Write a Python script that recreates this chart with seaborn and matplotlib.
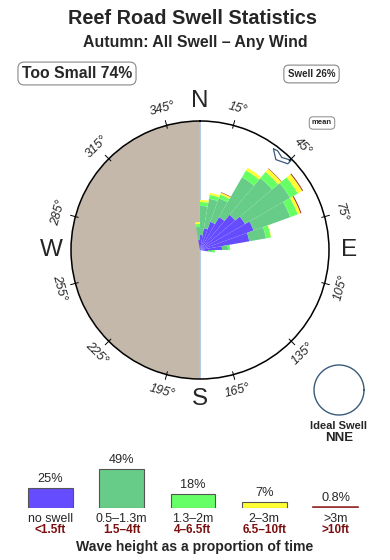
import numpy as np
import pandas as pd
import matplotlib
matplotlib.use("Agg")
import matplotlib.pyplot as plt
import seaborn as sns

sns.set_theme(style="white")
plt.rcParams['font.family'] = ['Liberation Sans', 'DejaVu Sans']

# ---------------- data ----------------
# rose: direction bins (compass deg, 10 deg wide), radial segment lengths per band
directions = [355, 5, 15, 25, 35, 45, 55, 65, 75, 85, 95]
seg_noswell = [10, 15, 22, 30, 38, 46, 52, 57, 50, 22, 8]
seg_small = [13, 29, 30, 25, 46, 48, 52, 39, 17, 6, 4]
seg_medium = [3, 4, 4, 4, 8, 8, 9, 8, 5, 2, 3]
seg_large = [2, 2, 2, 2, 3, 4, 5, 3, 0.5, 0, 0]
seg_huge = [0, 0, 0, 0.5, 0, 0.5, 1.0, 1.0, 0, 0, 0]
rose_rmax = 129
mean_direction = 41

# legend bars
band_labels_m = ["no swell", "0.5–1.3m", "1.3–2m", "2–3m", ">3m"]
band_labels_ft = ["<1.5ft", "1.5–4ft", "4–6.5ft", "6.5–10ft", ">10ft"]
band_pct = [25, 49, 18, 7, 0.8]
band_pct_text = ["25%", "49%", "18%", "7%", "0.8%"]
band_colors = ["#664cff", "#66cc88", "#66ff66", "#ffff33", "#993333"]

tick_angles = [15, 45, 75, 105, 135, 165, 195, 225, 255, 285, 315, 345]
cardinals = ["N", "E", "S", "W"]
cardinal_angles = [0, 90, 180, 270]

title = "Reef Road Swell Statistics"
subtitle = "Autumn: All Swell – Any Wind"
too_small_text = "Too Small 74%"
swell_text = "Swell 26%"
ideal_text = ["Ideal Swell", "NNE"]

# ---------------- figure ----------------
W, H = 390, 560
fig = plt.figure(figsize=(W / 100, H / 100), dpi=100)
fig.patch.set_facecolor("white")

def fx(px):
    return px / W

def fy(py):
    return 1 - py / H

fig.text(fx(193), fy(18.5), title, ha="center", va="center", fontsize=14.3, fontweight="bold")
fig.text(fx(195), fy(42), subtitle, ha="center", va="center", fontsize=11.4, fontweight="bold")

fig.text(fx(77), fy(73.5), too_small_text, ha="center", va="center", fontsize=11.3, fontweight="bold",
         bbox=dict(boxstyle="round,pad=0.25,rounding_size=0.4", fc="white", ec="#888888", lw=0.8))
fig.text(fx(311.5), fy(74), swell_text, ha="center", va="center", fontsize=7, fontweight="bold",
         bbox=dict(boxstyle="round,pad=0.4,rounding_size=0.5", fc="white", ec="#888888", lw=0.8))
fig.text(fx(322), fy(123), "mean", ha="center", va="center", fontsize=5.5, fontweight="bold",
         bbox=dict(boxstyle="round,pad=0.35,rounding_size=0.5", fc="white", ec="#888888", lw=0.7))

# ---------------- rose (polar) ----------------
cx, cy, R = 200, 250, 129
ax = fig.add_axes([fx(cx - R), 1 - (cy + R) / H, 2 * R / W, 2 * R / H], projection="polar")
ax.set_theta_zero_location("N")
ax.set_theta_direction(-1)
ax.set_ylim(0, rose_rmax)
ax.grid(False)
ax.set_xticks([])
ax.set_yticks([])
ax.spines["polar"].set_color("black")
ax.spines["polar"].set_linewidth(1.1)
ax.set_facecolor("white")

# west half shading
ax.bar(np.deg2rad(270), rose_rmax, width=np.pi, bottom=0, color="#c4b8aa", zorder=1, linewidth=0)
ax.plot([0, 0], [0, rose_rmax], color="#a8c4e0", lw=1.2, zorder=2)
ax.plot([np.pi, np.pi], [0, rose_rmax], color="#a8c4e0", lw=1.2, zorder=2)

theta = np.deg2rad(directions)
bottom = np.zeros(len(directions))
for seg, col in zip([seg_noswell, seg_small, seg_medium, seg_large, seg_huge], band_colors):
    seg = np.array(seg, dtype=float)
    ax.bar(theta, seg, width=np.deg2rad(10), bottom=bottom, color=col, zorder=3,
           linewidth=0, antialiased=True)
    bottom += seg

# mean marker (small hollow arrow near the rim)
mk_dt = np.array([-5, -1, 4.5, 4.5, 0.5, -3, -5])
mk_r = [125, 118, 123, 128, 123.5, 126, 125]
ax.plot(np.deg2rad(mean_direction + mk_dt), mk_r, color="#3a5a7a", lw=0.9, zorder=4, clip_on=False)

# ticks and degree labels
for a in tick_angles:
    t = np.deg2rad(a)
    ax.plot([t, t], [126, 134], color="black", lw=0.7, clip_on=False, zorder=5)
    rot = -a if (a < 90 or a > 270) else 180 - a
    ax.text(t, 146, f"{a}°", rotation=rot, ha="center", va="center", rotation_mode="anchor",
            fontsize=9, fontstyle="italic", clip_on=False)

for lab, a in zip(cardinals, cardinal_angles):
    ax.text(np.deg2rad(a), 149, lab, ha="center", va="center", fontsize=17.5, clip_on=False)

# ideal swell circle
icx, icy, ir = 339, 390, 25
ax2 = fig.add_axes([fx(icx - ir - 1), 1 - (icy + ir + 1) / H, (2 * ir + 2) / W, (2 * ir + 2) / H])
circ_t = np.linspace(0, 2 * np.pi, 200)
ax2.plot(np.cos(circ_t), np.sin(circ_t), color="#3a5a7a", lw=1.0)
ax2.set_xlim(-1.04, 1.04)
ax2.set_ylim(-1.04, 1.04)
ax2.axis("off")
fig.text(fx(339), fy(426), ideal_text[0], ha="center", va="center", fontsize=8, fontweight="bold")
fig.text(fx(339), fy(438), ideal_text[1], ha="center", va="center", fontsize=9.5, fontweight="bold")

# ---------------- legend bars (seaborn) ----------------
df = pd.DataFrame({"band": band_labels_m, "pct": band_pct})
step = 71.25
left_px = 50.5 - step / 2
axb = fig.add_axes([fx(left_px), fy(508), 5 * step / W, 48 / H])
sns.barplot(data=df, x="band", y="pct", hue="band", palette=band_colors, legend=False,
            width=0.63, ax=axb, edgecolor="#555555", linewidth=0.8, saturation=1)
for p, col in zip(axb.patches, band_colors):
    if col == "#993333":
        p.set_edgecolor(col)
        p.set_linewidth(1.2)
axb.set_ylim(0, 60)
axb.set_xlim(-0.5, 4.5)
axb.axis("off")
for i, (v, txt) in enumerate(zip(band_pct, band_pct_text)):
    axb.annotate(txt, (i, v), xytext=(0, 6.5), textcoords="offset points", ha="center",
                 va="center", fontsize=9.2)
    xpix = 50.5 + step * i
    fig.text(fx(xpix), fy(518.5), band_labels_m[i], ha="center", va="center", fontsize=8.9)
    fig.text(fx(xpix), fy(530), band_labels_ft[i], ha="center", va="center", fontsize=8.5,
             color="#7a1010", fontweight="bold")

fig.text(fx(194.5), fy(546.5), "Wave height as a proportion of time", ha="center", va="center",
         fontsize=10.1, fontweight="bold")

fig.savefig("out.png", dpi=100, facecolor="white")
